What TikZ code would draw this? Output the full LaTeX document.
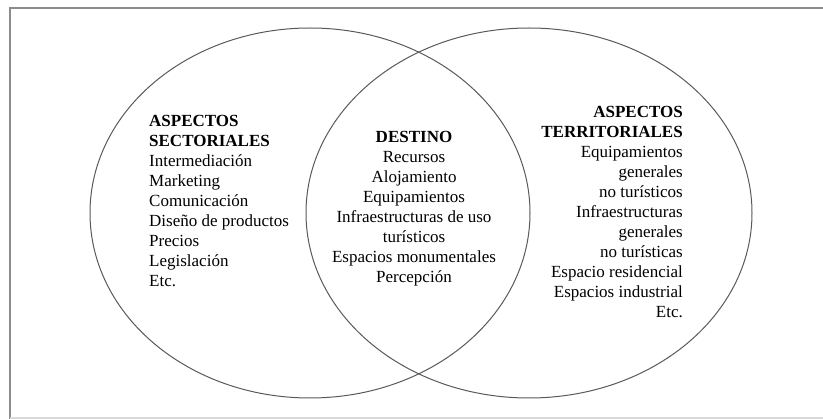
\documentclass[tikz,border=0pt]{standalone}
\usepackage{fontspec}
\setmainfont{Liberation Serif}
\tikzset{
  lista/.style={inner sep=0pt, font=\fontsize{17}{20}\selectfont, text=black},
  ovalo/.style={draw=black!65, line width=1pt},
  marco/.style={draw=black!45, line width=1.2pt}
}
\begin{document}
\begin{tikzpicture}[x=1pt,y=-1pt]
      \useasboundingbox (0,0) rectangle (823,419);
      \draw[marco] (823,8) -- (10,8) -- (10,419);
      \draw[marco, draw=black!15] (10,418) -- (823,418);
      \draw[ovalo] (310,213) ellipse (220 and 185);
      \draw[ovalo] (529,213) ellipse (223 and 185);
      \draw
        (149,115) node[lista, anchor=north west, align=left] (sect)
          {\textbf{ASPECTOS}\\ \textbf{SECTORIALES}\\ Intermediación\\ Marketing\\
           Comunicación\\ Diseño de productos\\ Precios\\ Legislación\\ Etc.}
        (414,131) node[lista, anchor=north, align=center] (dest)
          {\textbf{DESTINO}\\ Recursos\\ Alojamiento\\ Equipamientos\\
           Infraestructuras de uso\\ turísticos\\ Espacios monumentales\\ Percepción}
        (683,106) node[lista, anchor=north east, align=right] (terr)
          {\textbf{ASPECTOS}\\ \textbf{TERRITORIALES}\\ Equipamientos\\ generales\\
           no turísticos\\ Infraestructuras\\ generales\\ no turísticas\\
           Espacio residencial\\ Espacios industrial\\ Etc.};
    \end{tikzpicture}
\end{document}
